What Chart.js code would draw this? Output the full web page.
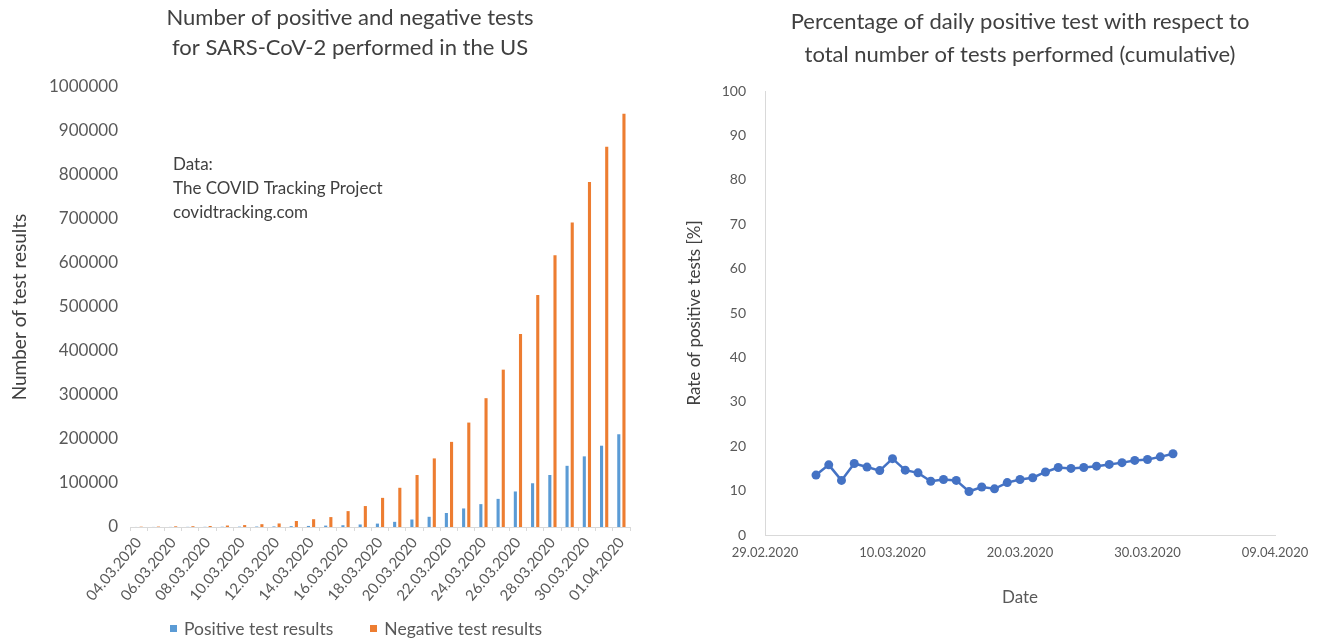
<!DOCTYPE html>
<html>
<head>
<meta charset="utf-8">
<script src="https://cdn.jsdelivr.net/npm/chart.js@4.4.1/dist/chart.umd.min.js"></script>
<style>
  html, body { margin: 0; padding: 0; background: #fff; }
  body { width: 1325px; height: 640px; position: relative; overflow: hidden; font-family: Lato, "Open Sans", sans-serif; }
  #wrapLeft { position: absolute; left: 0; top: 0; width: 710px; height: 640px; }
  #wrapRight { position: absolute; left: 660px; top: 0; width: 665px; height: 640px; }
  #legendLeft { position: absolute; left: 0; width: 712px; top: 617px; height: 22px;
    display: flex; justify-content: center; align-items: center; gap: 37px;
    font-size: 17.5px; color: #595959; }
  #legendLeft .item { display: flex; align-items: center; white-space: nowrap; }
  #legendLeft .box { width: 7px; height: 7px; margin-right: 7px; }
</style>
</head>
<body>
<div id="wrapLeft"><canvas id="testsChart" width="710" height="640"></canvas></div>
<div id="wrapRight"><canvas id="rateChart" width="665" height="640"></canvas></div>
<div id="legendLeft"></div>
<script>
// data (COVID Tracking Project, US)
var dates = ['04.03.2020', '05.03.2020', '06.03.2020', '07.03.2020', '08.03.2020', '09.03.2020',
  '10.03.2020', '11.03.2020', '12.03.2020', '13.03.2020', '14.03.2020', '15.03.2020',
  '16.03.2020', '17.03.2020', '18.03.2020', '19.03.2020', '20.03.2020', '21.03.2020',
  '22.03.2020', '23.03.2020', '24.03.2020', '25.03.2020', '26.03.2020', '27.03.2020',
  '28.03.2020', '29.03.2020', '30.03.2020', '31.03.2020', '01.04.2020'];

var positiveTests = [118, 176, 223, 341, 417, 584, 778, 1053, 1315, 1922, 2450, 3173,
  4019, 5723, 7731, 11723, 17033, 23197, 31888, 42152, 51970, 63928, 80735, 99413,
  118234, 139061, 160530, 184770, 210770];

var negativeTests = [748, 953, 1571, 1809, 2335, 3367, 4384, 6422, 8041, 13613, 17727, 22551,
  36104, 47604, 66225, 89119, 118147, 155909, 193463, 237321, 292758, 357604, 438603, 527220,
  617470, 692290, 784324, 864201, 939190];

var positiveRate = [13.5, 15.8, 12.3, 16.1, 15.3, 14.5, 17.2, 14.6, 14.0, 12.1, 12.5, 12.3,
  9.8, 10.8, 10.4, 11.8, 12.5, 12.9, 14.2, 15.2, 15.0, 15.2, 15.5, 15.9, 16.3, 16.8,
  17.0, 17.6, 18.3];

var sourceNote = ['Data:', 'The COVID Tracking Project', 'covidtracking.com'];

var leftTitle = ['Number of positive and negative tests', 'for SARS-CoV-2 performed in the US'];
var rightTitle = ['Percentage of daily positive test with respect to', 'total number of tests performed (cumulative)'];

var FONT = 'Lato, "Open Sans", sans-serif';
Chart.defaults.font.family = FONT;
Chart.defaults.color = '#595959';

var DAY = 86400000;
var originDate = Date.UTC(2020, 1, 29);

function dayOffset(text) {
    var p = text.split('.');
    return (Date.UTC(+p[2], +p[1] - 1, +p[0]) - originDate) / DAY;
}

function formatDay(v) {
    var d = new Date(originDate + v * DAY);
    var dd = String(d.getUTCDate()).padStart(2, '0');
    var mm = String(d.getUTCMonth() + 1).padStart(2, '0');
    return dd + '.' + mm + '.' + d.getUTCFullYear();
}

// title (a bit left of the plot centre, like the original) and the data source box
var textPlugin = {
    id: 'texts',
    afterDraw: function(chart) {
        var ctx = chart.ctx;
        ctx.save();
        ctx.textBaseline = 'middle';
        ctx.fillStyle = '#404040';
        ctx.font = '22px ' + FONT;
        ctx.textAlign = 'center';
        leftTitle.forEach(function(line, i) {
            ctx.fillText(line, 350, 18 + i * 29.5);
        });
        ctx.font = '17px ' + FONT;
        ctx.textAlign = 'left';
        sourceNote.forEach(function(line, i) {
            ctx.fillText(line, 173, 165 + i * 24);
        });
        ctx.restore();
    }
};

var testsChart = new Chart(document.getElementById('testsChart'), {
    type: 'bar',
    data: {
        labels: dates,
        datasets: [{
            label: 'Positive test results',
            data: positiveTests,
            backgroundColor: '#5B9BD5',
            barPercentage: 0.6,
            categoryPercentage: 0.6
        }, {
            label: 'Negative test results',
            data: negativeTests,
            backgroundColor: '#ED7D31',
            barPercentage: 0.6,
            categoryPercentage: 0.6
        }]
    },
    options: {
        responsive: false,
        animation: false,
        layout: { padding: { left: 4, right: 80, top: 87, bottom: 33 } },
        plugins: {
            legend: { display: false },
            tooltip: { enabled: false }
        },
        scales: {
            x: {
                offset: true,
                grid: { display: true, drawOnChartArea: false, tickLength: 4, color: '#d9d9d9', offset: true },
                border: { color: '#d9d9d9' },
                ticks: {
                    autoSkip: false,
                    maxRotation: 50, minRotation: 50,
                    font: { size: 15 },
                    callback: function(v, i) { return i % 2 === 0 ? dates[i] : ''; }
                },
                afterFit: function(scale) { scale.height = 80; }
            },
            y: {
                min: 0, max: 1000000,
                grid: { display: false, drawTicks: false },
                border: { display: false },
                ticks: {
                    stepSize: 100000, padding: 12, font: { size: 17 },
                    callback: function(v) { return String(v); }
                },
                title: {
                    display: true,
                    text: 'Number of test results',
                    color: '#404040',
                    font: { size: 19 }
                },
                afterFit: function(scale) { scale.width = 126; }
            }
        }
    },
    plugins: [textPlugin]
});

// legend for the bar chart, built from its datasets
var legendBox = document.getElementById('legendLeft');
testsChart.data.datasets.forEach(function(ds) {
    var item = document.createElement('span');
    item.className = 'item';
    var box = document.createElement('span');
    box.className = 'box';
    box.style.background = ds.backgroundColor;
    item.appendChild(box);
    item.appendChild(document.createTextNode(ds.label));
    legendBox.appendChild(item);
});

new Chart(document.getElementById('rateChart'), {
    type: 'line',
    data: {
        datasets: [{
            label: 'Rate of positive tests',
            data: dates.map(function(d, i) { return { x: dayOffset(d), y: positiveRate[i] }; }),
            borderColor: '#4472C4',
            backgroundColor: '#4472C4',
            borderWidth: 2.5,
            pointRadius: 4.5,
            pointBorderWidth: 0,
            tension: 0
        }]
    },
    options: {
        responsive: false,
        animation: false,
        layout: { padding: { left: 20, right: 50, top: 5.5, bottom: 28 } },
        plugins: {
            title: {
                display: true,
                fullSize: false,
                text: rightTitle,
                color: '#404040',
                font: { size: 22, weight: 'normal', lineHeight: 1.5 },
                padding: { top: 0, bottom: 19.5 }
            },
            legend: { display: false },
            tooltip: { enabled: false }
        },
        scales: {
            x: {
                type: 'linear',
                min: 0, max: 40,
                grid: { display: true, drawOnChartArea: false, drawTicks: false, color: '#d9d9d9' },
                border: { color: '#d9d9d9' },
                ticks: { stepSize: 10, padding: 10, font: { size: 13 }, callback: function(v) { return formatDay(v); } },
                title: {
                    display: true,
                    text: 'Date',
                    color: '#595959',
                    font: { size: 17 },
                    padding: { top: 17, bottom: 4 }
                }
            },
            y: {
                min: 0, max: 100,
                grid: { display: true, drawOnChartArea: false, drawTicks: false, color: '#d9d9d9' },
                border: { color: '#d9d9d9' },
                ticks: { stepSize: 10, padding: 19, font: { size: 14 } },
                title: {
                    display: true,
                    text: 'Rate of positive tests [%]',
                    color: '#404040',
                    font: { size: 17 }
                },
                afterFit: function(scale) { scale.width = 85; }
            }
        }
    }
});
</script>
</body>
</html>
